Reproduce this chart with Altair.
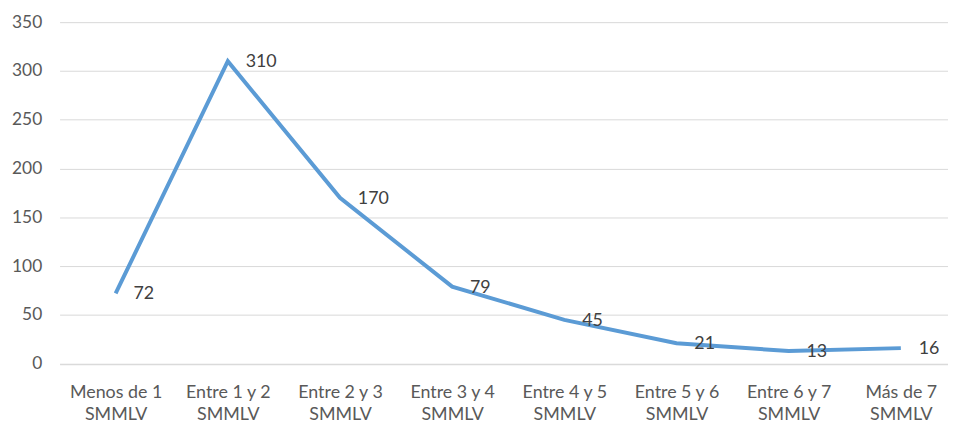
import altair as alt
import pandas as pd

categories = ["Menos de 1 SMMLV", "Entre 1 y 2 SMMLV", "Entre 2 y 3 SMMLV", "Entre 3 y 4 SMMLV",
              "Entre 4 y 5 SMMLV", "Entre 5 y 6 SMMLV", "Entre 6 y 7 SMMLV", "Más de 7 SMMLV"]
values = [72, 310, 170, 79, 45, 21, 13, 16]
y_ticks = [0, 50, 100, 150, 200, 250, 300, 350]

df = pd.DataFrame({"cat": categories, "val": values})

FONT = "Lato"
x = alt.X("cat:N", sort=categories, title=None,
          scale=alt.Scale(type="point", range=[0, 905], padding=0.5),
          axis=alt.Axis(labelExpr="[replace(datum.value, ' SMMLV', ''), 'SMMLV']",
                        labelAngle=0, labelFont=FONT, labelFontSize=18, labelColor="#595959",
                        labelPadding=20, labelLineHeight=22, ticks=False,
                        domainColor="#D9D9D9", domainWidth=1, grid=False))
y = alt.Y("val:Q", title=None,
          scale=alt.Scale(domain=[0, 350], nice=False),
          axis=alt.Axis(values=y_ticks, labelFont=FONT, labelFontSize=17.5, labelColor="#595959",
                        labelPadding=18, ticks=False, domain=False,
                        gridColor="#D9D9D9", gridWidth=1))

line = alt.Chart(df).mark_line(color="#5B9BD5", strokeWidth=4).encode(x=x, y=y)
text = alt.Chart(df).mark_text(align="left", baseline="middle", dx=18, dy=1,
                               font=FONT, fontSize=18, color="#404040").encode(
    x=alt.X("cat:N", sort=categories), y="val:Q", text="val:Q")

chart = (line + text).properties(
    width=896, height=344.5,
    autosize=alt.AutoSizeParams(type="none"),
    padding={"left": 52, "top": 12.5, "right": 0, "bottom": 59},
).configure_view(stroke=None)

chart.save("out.html", embed_options={"renderer": "svg", "actions": False})
